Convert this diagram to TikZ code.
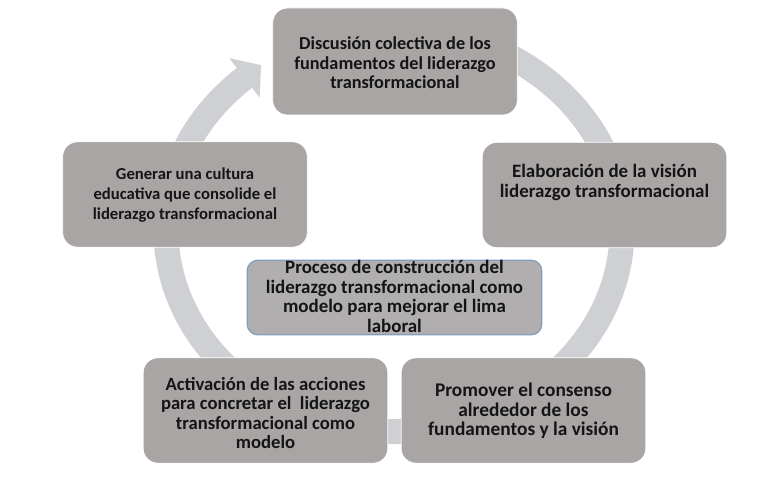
\documentclass[tikz,border=0pt]{standalone}
\usepackage{fontspec}
\setmainfont{Carlito}
\definecolor{ringgray}{RGB}{206,208,212}
\definecolor{boxgray}{RGB}{168,165,164}
\definecolor{centerfill}{RGB}{176,174,174}
\definecolor{centerline}{RGB}{128,158,192}
\definecolor{txt}{RGB}{20,20,20}
\newcommand{\fsz}[1]{\bfseries\fontsize{#1}{14.7}\selectfont}
\tikzset{
  stagebox/.style={draw=white, line width=0.6pt, fill=boxgray, rounded corners=11pt,
    minimum width=183.5pt, minimum height=79pt, inner sep=0pt},
  stagetext/.style={align=center, text=txt, inner sep=0pt},
  centerbox/.style={draw=centerline, line width=0.9pt, fill=centerfill, rounded corners=8pt,
    minimum width=221pt, minimum height=56pt, inner sep=0pt},
}
\begin{document}
\begin{tikzpicture}[x=0.75pt, y=-0.75pt]
\useasboundingbox (0,0) rectangle (761,485);
% ring
\draw[ringgray, line width=18.75pt] (354.4,31.6) arc[start angle=100, end angle=-229, x radius=171pt, y radius=151.125pt];
\fill[ringgray] (229.2,58.1) -- (261.1,65.1) -- (259.6,97.7) -- cycle;
% boxes
\node[stagebox, minimum height=80.25pt] (top) at (395,61.5) {};
\node[stagetext, font=\fsz{13.7}] (toptext) at (395,63) {Discusión colectiva de los\\fundamentos del liderazgo\\transformacional};
\node[stagebox] (right) at (604.5,195) {};
\node[stagetext, font=\fsz{14.2}] (righttext) at (604.5,182.5) {Elaboración de la visión\\liderazgo transformacional};
\node[stagebox] (left) at (185,194.5) {};
\node[stagetext, font=\fsz{12.5}] (lefttext) at (185,195) {Generar una cultura\\educativa que consolide el\\liderazgo transformacional};
\node[stagebox] (botright) at (523.5,410.5) {};
\node[stagetext, font=\fsz{14.5}] (botrighttext) at (523.5,411) {Promover el consenso\\alrededor de los\\fundamentos y la visión};
\node[stagebox] (botleft) at (265.5,410.5) {};
\node[stagetext, font=\fsz{14}] (botlefttext) at (265.5,413) {Activación de las acciones\\para concretar el\ \ liderazgo\\transformacional como\\modelo};
\node[centerbox] (center) at (394.5,297.5) {};
\node[stagetext, font=\fsz{14.2}] (centertext) at (394.5,296.5) {Proceso de construcción del\\liderazgo transformacional como\\modelo para mejorar el lima\\laboral};
\end{tikzpicture}
\end{document}
